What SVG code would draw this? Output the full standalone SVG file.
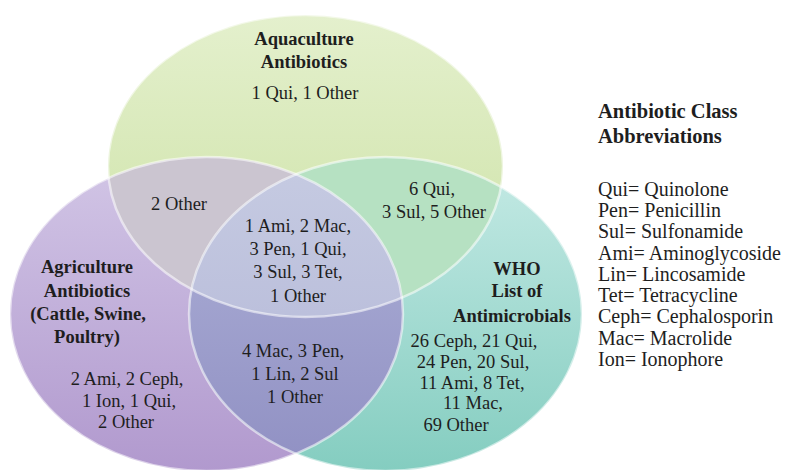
<svg xmlns="http://www.w3.org/2000/svg" width="793" height="470" viewBox="0 0 793 470">
  <defs>
    <linearGradient id="gG" x1="0" y1="0" x2="0" y2="1">
      <stop offset="0" stop-color="#e4f0cd"/>
      <stop offset="1" stop-color="#cbe1a3"/>
    </linearGradient>
    <linearGradient id="gP" x1="0" y1="0" x2="0" y2="1">
      <stop offset="0" stop-color="#d2c6e6"/>
      <stop offset="1" stop-color="#b199ce"/>
    </linearGradient>
    <linearGradient id="gT" x1="0" y1="0" x2="0" y2="1">
      <stop offset="0" stop-color="#c5eae5"/>
      <stop offset="1" stop-color="#84cdc0"/>
    </linearGradient>
    <linearGradient id="gPT" x1="0" y1="0" x2="0" y2="1">
      <stop offset="0" stop-color="#afb2d8"/>
      <stop offset="1" stop-color="#9090c3"/>
    </linearGradient>
    <linearGradient id="gTri" x1="0" y1="0" x2="0" y2="1">
      <stop offset="0" stop-color="#c6cbe2"/>
      <stop offset="1" stop-color="#b2b5d6"/>
    </linearGradient>
    <clipPath id="cG"><ellipse cx="305.5" cy="166" rx="197.5" ry="151"/></clipPath>
    <clipPath id="cP"><ellipse cx="206.5" cy="314" rx="196.5" ry="157"/></clipPath>
    <style>
      .rim { fill: none; stroke: #ffffff; stroke-opacity: 0.55; stroke-width: 2.5; }
      .t { font-family: "Liberation Serif", "Times New Roman", serif; fill: #1e1e1e; text-anchor: middle; }
      .b { font-weight: bold; font-size: 18.5px; }
      .r { font-size: 18.5px; }
      .lg { font-family: "Liberation Serif", "Times New Roman", serif; fill: #1e1e1e; }
      .lgb { font-weight: bold; font-size: 20.5px; }
      .lgr { font-size: 20px; }
    </style>
  </defs>
  <rect width="793" height="470" fill="#ffffff"/>

  <g id="circles">
    <ellipse cx="305.5" cy="166" rx="197.5" ry="151" fill="url(#gG)"/>
    <ellipse cx="206.5" cy="314" rx="196.5" ry="157" fill="url(#gP)"/>
    <ellipse cx="385.5" cy="314" rx="196.5" ry="157" fill="url(#gT)"/>
    <g clip-path="url(#cG)">
      <ellipse cx="206.5" cy="314" rx="196.5" ry="157" fill="#cbc5d0"/>
      <ellipse cx="385.5" cy="314" rx="196.5" ry="157" fill="#b6e1c2"/>
    </g>
    <g clip-path="url(#cP)">
      <ellipse cx="385.5" cy="314" rx="196.5" ry="157" fill="url(#gPT)"/>
    </g>
    <g clip-path="url(#cG)">
      <g clip-path="url(#cP)">
        <ellipse cx="385.5" cy="314" rx="196.5" ry="157" fill="url(#gTri)"/>
      </g>
    </g>
    <ellipse class="rim" cx="305.5" cy="166" rx="197.5" ry="151"/>
    <ellipse class="rim" cx="206.5" cy="314" rx="196.5" ry="157"/>
    <ellipse class="rim" cx="385.5" cy="314" rx="196.5" ry="157"/>
  </g>

  <g id="aquaculture" class="t">
    <text class="b" x="304" y="45">Aquaculture</text>
    <text class="b" x="304" y="68">Antibiotics</text>
    <text class="r" x="305" y="99">1 Qui, 1 Other</text>
  </g>

  <g id="agriculture" class="t">
    <text class="b" x="87" y="273">Agriculture</text>
    <text class="b" x="87" y="297">Antibiotics</text>
    <text class="b" x="88" y="320">(Cattle, Swine,</text>
    <text class="b" x="87" y="343">Poultry)</text>
    <text class="r" x="127" y="385">2 Ami, 2 Ceph,</text>
    <text class="r" x="129" y="407">1 Ion, 1 Qui,</text>
    <text class="r" x="126" y="428">2 Other</text>
  </g>

  <g id="who" class="t">
    <text class="b" x="517" y="275">WHO</text>
    <text class="b" x="517" y="297">List of</text>
    <text class="b" x="512" y="322">Antimicrobials</text>
    <text class="r" x="474" y="347">26 Ceph, 21 Qui,</text>
    <text class="r" x="473" y="368">24 Pen, 20 Sul,</text>
    <text class="r" x="472" y="389">11 Ami, 8 Tet,</text>
    <text class="r" x="473" y="409">11 Mac,</text>
    <text class="r" x="456" y="431">69 Other</text>
  </g>

  <g id="aqua-agri" class="t">
    <text class="r" x="179" y="210">2 Other</text>
  </g>

  <g id="aqua-who" class="t">
    <text class="r" x="432" y="195">6 Qui,</text>
    <text class="r" x="434" y="218">3 Sul, 5 Other</text>
  </g>

  <g id="all-three" class="t">
    <text class="r" x="298" y="232">1 Ami, 2 Mac,</text>
    <text class="r" x="298" y="255">3 Pen, 1 Qui,</text>
    <text class="r" x="298" y="278">3 Sul, 3 Tet,</text>
    <text class="r" x="298" y="302">1 Other</text>
  </g>

  <g id="agri-who" class="t">
    <text class="r" x="293" y="357">4 Mac, 3 Pen,</text>
    <text class="r" x="295" y="380">1 Lin, 2 Sul</text>
    <text class="r" x="295" y="403">1 Other</text>
  </g>

  <g id="legend" class="lg">
    <text class="lgb" x="598" y="118">Antibiotic Class</text>
    <text class="lgb" x="598" y="143">Abbreviations</text>
    <text class="lgr" x="598" y="196">Qui= Quinolone</text>
    <text class="lgr" x="598" y="217">Pen= Penicillin</text>
    <text class="lgr" x="598" y="238">Sul= Sulfonamide</text>
    <text class="lgr" x="598" y="260">Ami= Aminoglycoside</text>
    <text class="lgr" x="598" y="281">Lin= Lincosamide</text>
    <text class="lgr" x="598" y="302">Tet= Tetracycline</text>
    <text class="lgr" x="598" y="323">Ceph= Cephalosporin</text>
    <text class="lgr" x="598" y="345">Mac= Macrolide</text>
    <text class="lgr" x="598" y="366">Ion= Ionophore</text>
  </g>
</svg>
